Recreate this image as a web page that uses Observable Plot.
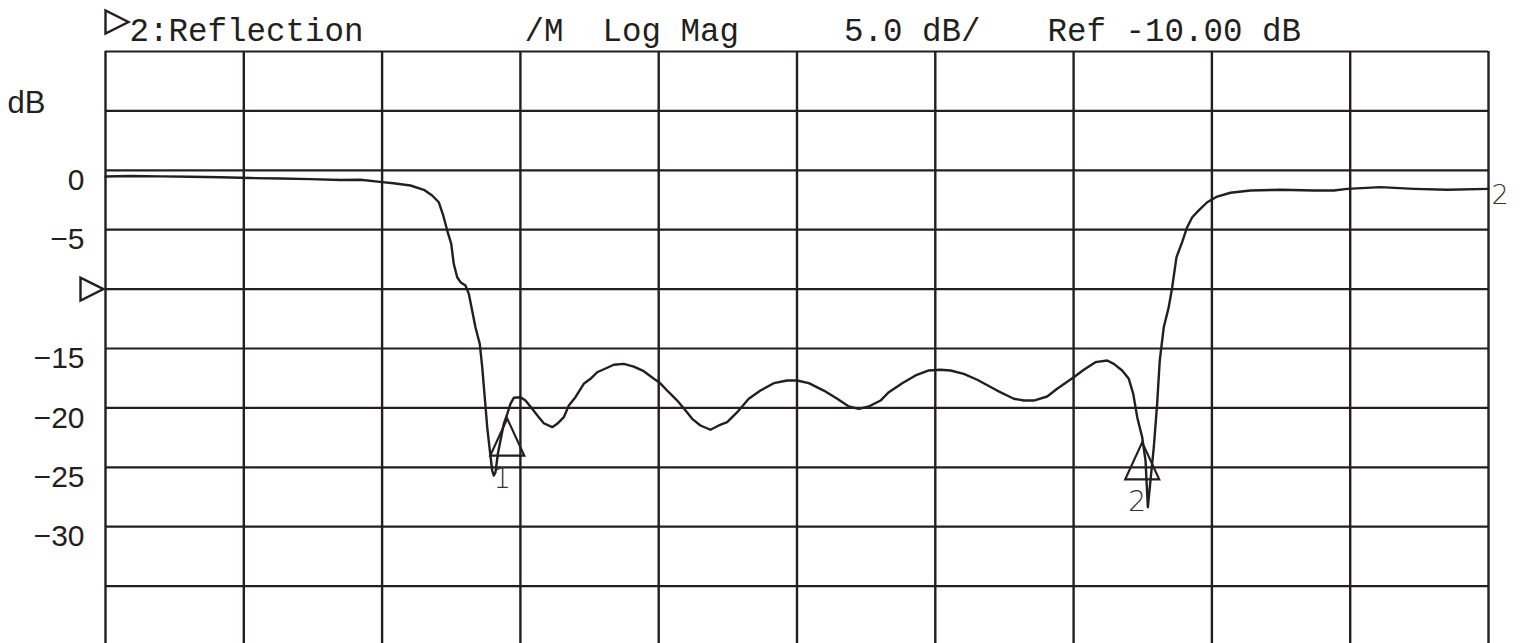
<!DOCTYPE html>
<html>
<head>
<meta charset="utf-8">
<script src="https://cdn.jsdelivr.net/npm/d3@7"></script>
<script src="https://cdn.jsdelivr.net/npm/@observablehq/plot@0.6"></script>
<style>
  html, body { margin: 0; padding: 0; background: #fff; overflow: hidden; }
  #chart svg { display: block; }
</style>
</head>
<body>
<div id="chart"></div>
<script>
// ---------------- data ----------------
// trace: [horizontal position in grid divisions (0..10), reflection in dB]
const trace = [
  [0, -0.52], [0.181, -0.48], [0.398, -0.51], [0.615, -0.54], [0.832, -0.59],
  [1.048, -0.65], [1.265, -0.69], [1.482, -0.74], [1.699, -0.82], [1.844, -0.80],
  [2.001, -1.00], [2.082, -1.09], [2.205, -1.28], [2.302, -1.64], [2.362, -2.12],
  [2.410, -2.69], [2.442, -3.80], [2.471, -5.07], [2.500, -6.19], [2.518, -7.87],
  [2.543, -9.00], [2.567, -9.42], [2.603, -9.70], [2.627, -10.40], [2.651, -11.80],
  [2.675, -13.21], [2.706, -14.60], [2.724, -16.57], [2.740, -18.81], [2.760, -21.62],
  [2.779, -23.59], [2.796, -25.27], [2.808, -25.69], [2.820, -25.41], [2.837, -23.86],
  [2.856, -22.74], [2.880, -21.34], [2.905, -20.50], [2.928, -19.66], [2.952, -19.15],
  [3.001, -19.10], [3.037, -19.38], [3.085, -20.08], [3.133, -20.78], [3.169, -21.29],
  [3.230, -21.62], [3.266, -21.34], [3.314, -20.78], [3.350, -19.80], [3.398, -19.10],
  [3.458, -17.97], [3.507, -17.55], [3.555, -17.00], [3.628, -16.62], [3.675, -16.37],
  [3.748, -16.29], [3.820, -16.52], [3.892, -16.91], [3.965, -17.55], [4.008, -17.89],
  [4.073, -18.68], [4.134, -19.38], [4.194, -20.22], [4.242, -20.92], [4.302, -21.48],
  [4.374, -21.84], [4.435, -21.48], [4.495, -21.20], [4.568, -20.36], [4.651, -19.23],
  [4.736, -18.54], [4.832, -17.92], [4.929, -17.69], [5.001, -17.69], [5.085, -17.92],
  [5.194, -18.54], [5.291, -19.23], [5.375, -19.88], [5.447, -20.08], [5.519, -19.88],
  [5.604, -19.38], [5.664, -18.68], [5.761, -17.92], [5.857, -17.27], [5.953, -16.85],
  [6.038, -16.79], [6.110, -16.85], [6.206, -17.13], [6.303, -17.63], [6.447, -18.54],
  [6.568, -19.23], [6.640, -19.38], [6.712, -19.38], [6.809, -19.04], [6.881, -18.39],
  [7.001, -17.42], [7.074, -16.79], [7.158, -16.15], [7.243, -16.01], [7.291, -16.29],
  [7.351, -16.85], [7.399, -17.55], [7.431, -18.81], [7.460, -20.78], [7.496, -22.47],
  [7.520, -24.43], [7.537, -28.36], [7.556, -26.11], [7.580, -23.31], [7.604, -19.66],
  [7.623, -16.01], [7.652, -13.21], [7.688, -11.52], [7.713, -9.84], [7.744, -7.31],
  [7.785, -6.05], [7.821, -4.79], [7.858, -3.95], [7.905, -3.38], [7.966, -2.69],
  [8.038, -2.21], [8.134, -1.89], [8.279, -1.70], [8.496, -1.64], [8.737, -1.70],
  [8.881, -1.70], [8.978, -1.56], [9.219, -1.42], [9.460, -1.56], [9.701, -1.64],
  [10.0, -1.56]
];
const gridXDiv = [0, 1, 2, 3, 4, 5, 6, 7, 8, 9, 10];
const gridYDb = [10, 5, 0, -5, -10, -15, -20, -25, -30, -35, -40];
const yTickLabels = [0, -5, -15, -20, -25, -30];
const markerIds = ["1", "2"];
const markerX = [2.905, 7.496];
const markerDb = [-20.9, -22.9];
const refLevelDb = -10;
const channelLabel = "2";
const yUnit = "dB";
const headerTexts = ["2:Reflection", "/M  Log Mag", "5.0 dB/", "Ref -10.00 dB"];

// ---------------- drawing ----------------
const ink = "#231f20";
const monoFont = "'Liberation Mono', 'Courier New', monospace";
const sansFont = "'Liberation Sans', Arial, sans-serif";
const thinFont = "'DejaVu Sans', sans-serif";

// custom glyphs
const markerTriangle = { draw(ctx) { ctx.moveTo(0, 0); ctx.lineTo(17, 37); ctx.lineTo(-17, 37); ctx.closePath(); } };
const pointer = { draw(ctx) { ctx.moveTo(0, 0); ctx.lineTo(-23, -11.5); ctx.lineTo(-23, 11.5); ctx.closePath(); } };

const headerOpts = { frameAnchor: "top-left", text: d => d, textAnchor: "start", lineAnchor: "bottom",
  fontFamily: monoFont, fontSize: 32.5, fill: ink, dy: -11 };

const last = trace[trace.length - 1];

const chart = Plot.plot({
  width: 1520,
  height: 646,
  marginLeft: 105,
  marginRight: 32,
  marginTop: 51,
  marginBottom: 1,
  style: { background: "#fff", color: ink, fontFamily: sansFont },
  x: { domain: [gridXDiv[0], gridXDiv[gridXDiv.length - 1]], axis: null },
  y: { domain: [gridYDb[gridYDb.length - 1], gridYDb[0]] },
  marks: [
    Plot.ruleY(gridYDb, { stroke: ink, strokeWidth: 2.2 }),
    Plot.ruleX(gridXDiv, { stroke: ink, strokeWidth: 2.4 }),
    Plot.axisY({ ticks: yTickLabels, tickSize: 0, tickPadding: 21, fontSize: 30, fontFamily: sansFont,
      dy: 10, label: null, fill: ink }),
    Plot.line(trace, { x: d => d[0], y: d => d[1], stroke: ink, strokeWidth: 2.4, strokeLinejoin: "round" }),
    Plot.dot(markerIds, { x: (d, i) => markerX[i], y: (d, i) => markerDb[i], symbol: markerTriangle, r: 5,
      fill: "none", stroke: ink, strokeWidth: 2.2 }),
    Plot.text(markerIds, { x: (d, i) => markerX[i], y: (d, i) => markerDb[i], text: d => d, dx: -5, dy: 60,
      fontSize: 28, fontFamily: thinFont, fontWeight: 200, fill: "#333" }),
    Plot.text([channelLabel], { x: () => last[0], y: () => last[1], text: d => d, dx: 3, dy: 7,
      textAnchor: "start", fontSize: 27, fontFamily: thinFont, fontWeight: 200, fill: "#333" }),
    // reference level pointer on the left edge
    Plot.dot([refLevelDb], { x: () => gridXDiv[0], y: d => d, symbol: pointer, r: 5, dx: -2,
      fill: "none", stroke: ink, strokeWidth: 2.4 }),
    // active channel pointer in the header
    Plot.dot([channelLabel], { x: () => gridXDiv[0], y: () => gridYDb[0], symbol: pointer, r: 5, dx: 23, dy: -29.5,
      fill: "none", stroke: ink, strokeWidth: 2.4 }),
    Plot.text([headerTexts[0]], { ...headerOpts, dx: 24 }),
    Plot.text([headerTexts[1]], { ...headerOpts, dx: 419 }),
    Plot.text([headerTexts[2]], { ...headerOpts, dx: 738.5 }),
    Plot.text([headerTexts[3]], { ...headerOpts, dx: 942 }),
    Plot.text([yUnit], { frameAnchor: "top-left", text: d => d, textAnchor: "start", lineAnchor: "bottom",
      dx: -98, dy: 61, fontSize: 31, fontFamily: sansFont, fill: ink })
  ]
});
document.getElementById("chart").append(chart);
</script>
</body>
</html>
